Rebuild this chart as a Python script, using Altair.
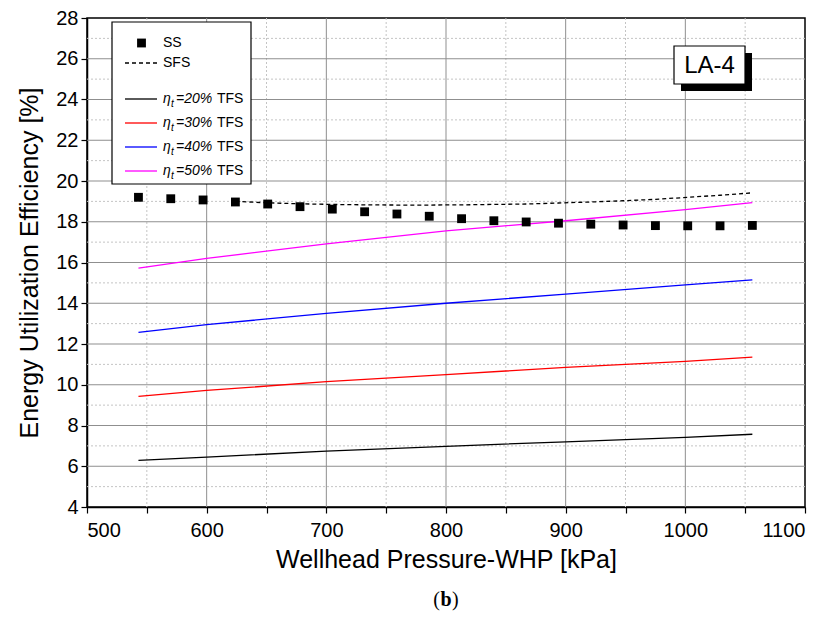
import altair as alt
import pandas as pd

# ---- data ----
ss_x = [543, 570, 597, 624, 651, 678, 705, 732, 759, 786, 813, 840, 867, 894, 921, 948, 975, 1002, 1029, 1056]
ss_y = [19.2, 19.13, 19.07, 18.97, 18.87, 18.74, 18.62, 18.49, 18.38, 18.27, 18.15, 18.05, 17.99, 17.93, 17.88, 17.84, 17.81, 17.8, 17.8, 17.82]

sfs_x = [624, 651, 678, 705, 732, 759, 786, 813, 840, 867, 894, 921, 948, 975, 1002, 1029, 1056]
sfs_y = [19.0, 18.93, 18.88, 18.85, 18.83, 18.82, 18.82, 18.83, 18.85, 18.87, 18.92, 18.97, 19.03, 19.1, 19.2, 19.3, 19.42]

tfs_x = [543, 600, 700, 800, 900, 1000, 1056]
tfs20 = [6.29, 6.45, 6.74, 6.98, 7.2, 7.42, 7.57]
tfs30 = [9.43, 9.72, 10.15, 10.5, 10.85, 11.15, 11.36]
tfs40 = [12.57, 12.95, 13.5, 14.0, 14.45, 14.9, 15.15]
tfs50 = [15.72, 16.2, 16.91, 17.55, 18.05, 18.6, 18.94]

series_names = ["20%", "30%", "40%", "50%"]
series_colors = ["#000000", "#ff0000", "#0000ff", "#ff00ff"]

x_major = [500, 600, 700, 800, 900, 1000, 1100]
x_minor = [550, 650, 750, 850, 950, 1050]
y_major = [4, 6, 8, 10, 12, 14, 16, 18, 20, 22, 24, 26, 28]
y_minor = [5, 7, 9, 11, 13, 15, 17, 19, 21, 23, 25, 27]

FONT = "Liberation Sans"
W, H = 718, 489

ss_df = pd.DataFrame({"x": ss_x, "y": ss_y})
sfs_df = pd.DataFrame({"x": sfs_x, "y": sfs_y})
rows = []
for name, vals in zip(series_names, [tfs20, tfs30, tfs40, tfs50]):
    for xv, yv in zip(tfs_x, vals):
        rows.append({"x": xv, "y": yv, "s": name})
tfs_df = pd.DataFrame(rows)

xscale = alt.Scale(domain=[500, 1100], nice=False, zero=False)
yscale = alt.Scale(domain=[4, 28], nice=False, zero=False)

xaxis = alt.Axis(
    values=x_major + x_minor,
    labelExpr="datum.value % 100 === 0 ? format(datum.value, 'd') : ''",
    title="Wellhead Pressure-WHP [kPa]",
    grid=False,
    tickSize=6,
    tickColor="black",
    tickWidth=1.2,
    domainColor="black",
    domainWidth=1.5,
    labelFont=FONT, labelFontSize=20, labelColor="black", labelPadding=7,
    titleFont=FONT, titleFontSize=25, titleFontWeight="normal", titleColor="black", titlePadding=7,
)
yaxis = alt.Axis(
    values=y_major + y_minor,
    labelExpr="datum.value % 2 === 0 ? datum.label : ''",
    title="Energy Utilization Efficiency [%]",
    grid=False,
    tickSize=6,
    tickColor="black",
    tickWidth=1.2,
    domainColor="black",
    domainWidth=1.5,
    labelFont=FONT, labelFontSize=20, labelColor="black", labelPadding=3,
    titleFont=FONT, titleFontSize=25, titleFontWeight="normal", titleColor="black", titlePadding=13,
)

def vgrid(vals, color, dash=None):
    kw = dict(color=color, strokeWidth=1)
    if dash:
        kw["strokeDash"] = dash
    return alt.Chart(pd.DataFrame({"v": vals})).mark_rule(**kw).encode(x=alt.X("v:Q", scale=xscale, axis=xaxis))

def hgrid(vals, color, dash=None):
    kw = dict(color=color, strokeWidth=1)
    if dash:
        kw["strokeDash"] = dash
    return alt.Chart(pd.DataFrame({"v": vals})).mark_rule(**kw).encode(y=alt.Y("v:Q", scale=yscale, axis=yaxis))

grids = [
    vgrid(x_minor, "#c4c4c4", [2, 2]),
    hgrid(y_minor, "#c4c4c4", [2, 2]),
    vgrid(x_major[1:-1], "#8f8f8f"),
    hgrid(y_major[1:-1], "#8f8f8f"),
]

tfs = alt.Chart(tfs_df).mark_line(strokeWidth=1.3).encode(
    x=alt.X("x:Q", scale=xscale, axis=xaxis),
    y=alt.Y("y:Q", scale=yscale, axis=yaxis),
    color=alt.Color("s:N", scale=alt.Scale(domain=series_names, range=series_colors), legend=None),
)
sfs = alt.Chart(sfs_df).mark_line(strokeWidth=1.3, strokeDash=[4, 3], color="black").encode(
    x=alt.X("x:Q", scale=xscale), y=alt.Y("y:Q", scale=yscale)
)
ss = alt.Chart(ss_df).mark_square(size=78, color="black", opacity=1).encode(
    x=alt.X("x:Q", scale=xscale), y=alt.Y("y:Q", scale=yscale)
)

one = pd.DataFrame({"a": [0]})

def box(x1, x2, y1, y2, fill, stroke=None):
    kw = dict(fill=fill)
    if stroke:
        kw.update(stroke=stroke, strokeWidth=1.2)
    return alt.Chart(one).mark_rect(**kw).encode(
        x=alt.value(x1), x2=alt.value(x2), y=alt.value(y1), y2=alt.value(y2)
    )

def txt(s, x, y, size=14, style="normal", align="left", font=FONT, weight="normal"):
    return alt.Chart(one).mark_text(
        text=s, fontSize=size, font=font, fontStyle=style, fontWeight=weight,
        align=align, baseline="middle", color="black"
    ).encode(x=alt.value(x), y=alt.value(y))

def seg(x1, x2, y, color, dash=None):
    kw = dict(color=color, strokeWidth=1.3)
    if dash:
        kw["strokeDash"] = dash
    return alt.Chart(one).mark_rule(**kw).encode(x=alt.value(x1), x2=alt.value(x2), y=alt.value(y))

# legend
layers = [box(25, 164, 4, 166, "white", "black")]
layers.append(alt.Chart(one).mark_square(size=78, color="black", opacity=1).encode(x=alt.value(54.5), y=alt.value(25)))
layers.append(txt("SS", 76, 25))
layers.append(seg(38, 70, 45, "black", [4, 3]))
layers.append(txt("SFS", 76, 45))
leg_y = [81, 105, 129, 153]
for name, col, ly in zip(series_names, series_colors, leg_y):
    layers.append(seg(38, 70, ly, col))
    layers.append(txt("η", 76, ly, style="italic"))
    layers.append(txt("t", 84, ly + 5, size=10, style="italic"))
    layers.append(txt("=" + name, 89, ly, style="italic"))
    layers.append(txt("TFS", 130, ly))

# LA-4 label box with shadow
layers.append(box(594, 665, 35, 73, "black"))
layers.append(box(587, 658, 28, 66, "white", "black"))
layers.append(txt("LA-4", 622.5, 47.5, size=24, align="center"))

# panel label "(b)" with bold b
py = 582
layers.append(txt("(", W / 2 - 6, py, size=20, align="right", font="Liberation Serif"))
layers.append(txt("b", W / 2, py, size=20, align="center", font="Liberation Serif", weight="bold"))
layers.append(txt(")", W / 2 + 6, py, size=20, align="left", font="Liberation Serif"))

chart = alt.layer(*grids, tfs, sfs, ss, *layers).properties(
    width=W, height=H,
    autosize=alt.AutoSizeParams(type="none"),
    padding={"left": 79, "top": 10, "right": 17, "bottom": 110},
).configure_view(stroke="black", strokeWidth=1.5)

chart.save("out.html", embed_options={"renderer": "svg", "actions": False})
